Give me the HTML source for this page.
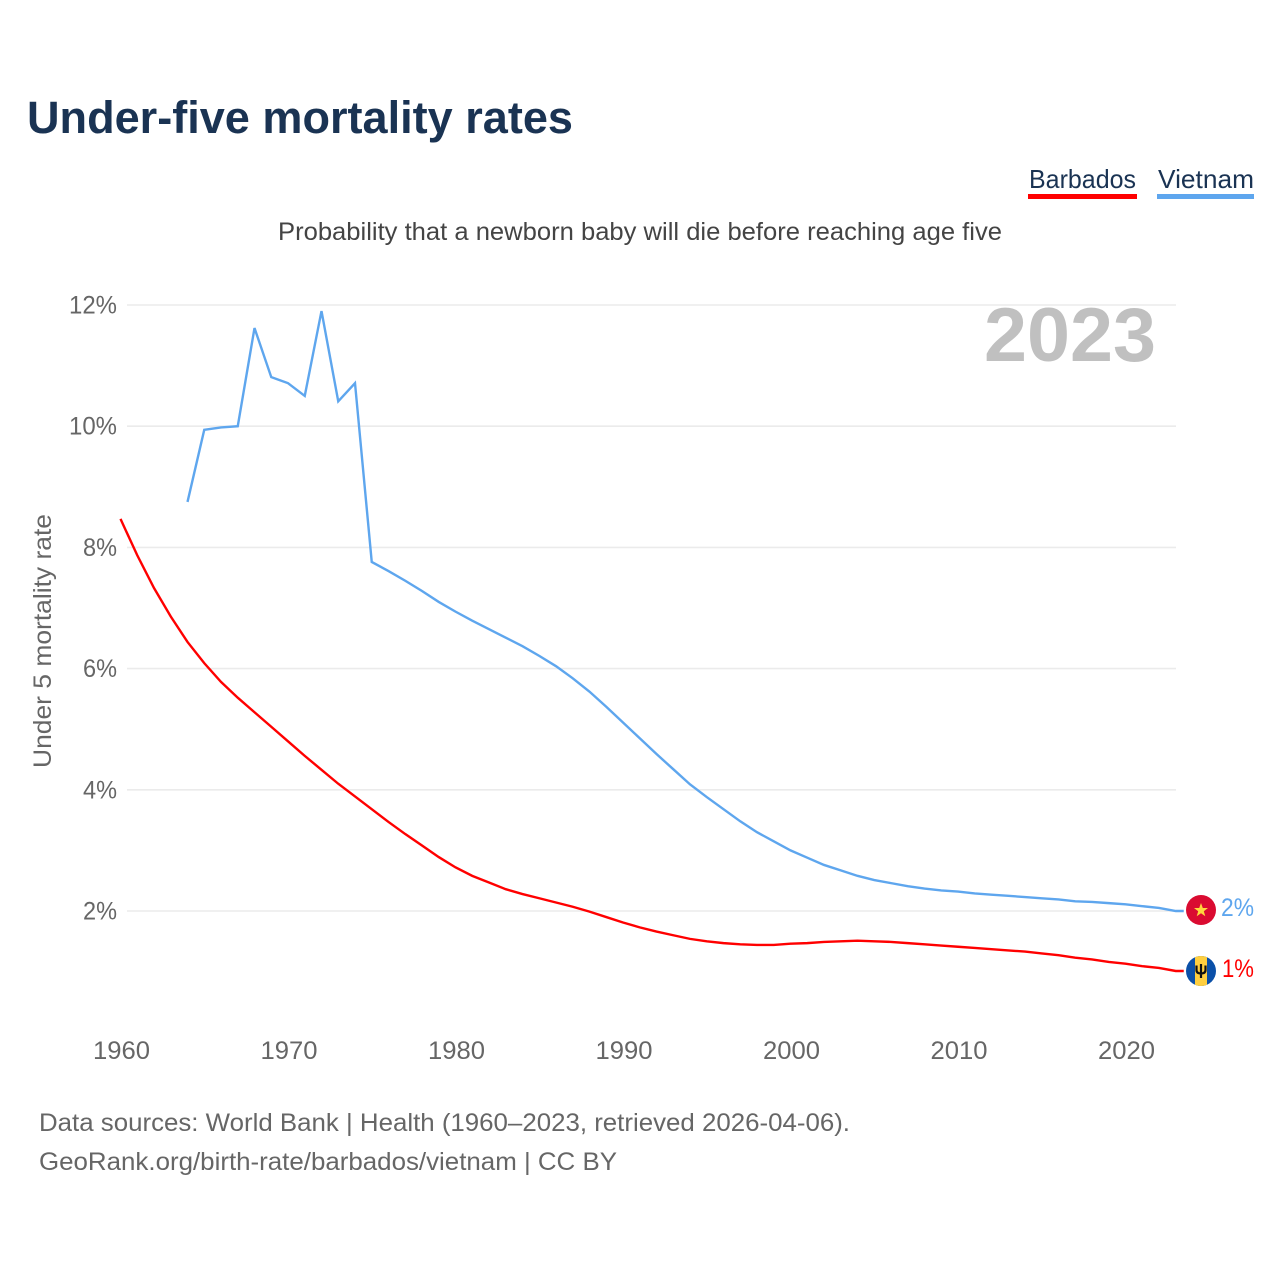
<!DOCTYPE html>
<html>
<head>
<meta charset="utf-8">
<title>Under-five mortality rates</title>
<style>
html,body{margin:0;padding:0;background:#fff;}
svg{display:block;font-family:"Liberation Sans",sans-serif;}
</style>
</head>
<body>
<svg id="chart" xmlns="http://www.w3.org/2000/svg" width="1280" height="1280" viewBox="0 0 1280 1280">
  <rect x="0" y="0" width="1280" height="1280" fill="#fff"/>
  <text x="27" y="133" font-size="45" font-weight="700" fill="#1a3353" textLength="546" lengthAdjust="spacingAndGlyphs">Under-five mortality rates</text>
  <g>
    <text x="1029" y="188" font-size="26" fill="#1a3353" textLength="107" lengthAdjust="spacingAndGlyphs">Barbados</text>
    <rect x="1028" y="194" width="109" height="5" fill="#ff0000"/>
  </g>
  <g>
    <text x="1158" y="188" font-size="26" fill="#1a3353" textLength="96" lengthAdjust="spacingAndGlyphs">Vietnam</text>
    <rect x="1157" y="194" width="97" height="5" fill="#5ea6ee"/>
  </g>
  <text x="278" y="240" font-size="25" fill="#444" textLength="724" lengthAdjust="spacingAndGlyphs">Probability that a newborn baby will die before reaching age five</text>
  <g id="grid"></g>
  <g id="yticks"></g>
  <g id="xticks"></g>
  <text transform="translate(51,768) rotate(-90)" x="0" y="0" font-size="25" fill="#666" textLength="254" lengthAdjust="spacingAndGlyphs">Under 5 mortality rate</text>
  <text x="984" y="361" font-size="76" font-weight="700" fill="#c0c0c0" textLength="172" lengthAdjust="spacingAndGlyphs">2023</text>
  <g id="lines"></g>
  <g id="flag-vietnam">
    <circle cx="1201" cy="910" r="15" fill="#da0b31"/>
    <polygon points="1201,903 1202.8,908 1208,908 1203.8,911.2 1205.3,916.2 1201,913.2 1196.7,916.2 1198.2,911.2 1194,908 1199.2,908" fill="#ffd83d"/>
  </g>
  <g id="flag-barbados">
    <clipPath id="bb-clip"><circle cx="1201" cy="971" r="15"/></clipPath>
    <g clip-path="url(#bb-clip)">
      <rect x="1186" y="956" width="30" height="30" fill="#0b50a8"/>
      <rect x="1195" y="956" width="12" height="30" fill="#ffcf3f"/>
    </g>
    <path d="M1201 964V978M1196.5 965.5V970c0 2.500 1.500 3.500 4.500 3.500s4.500-1 4.500-3.500V965.500" fill="none" stroke="#111" stroke-width="2.2"/>
  </g>
  <text x="1221" y="916" font-size="25" fill="#5ea6ee" textLength="33" lengthAdjust="spacingAndGlyphs">2%</text>
  <text x="1222" y="977" font-size="25" fill="#ff0000" textLength="32" lengthAdjust="spacingAndGlyphs">1%</text>
  <text x="39" y="1131" font-size="25" fill="#666" textLength="811" lengthAdjust="spacingAndGlyphs">Data sources: World Bank | Health (1960–2023, retrieved 2026-04-06).</text>
  <text x="39" y="1170" font-size="25" fill="#666" textLength="578" lengthAdjust="spacingAndGlyphs">GeoRank.org/birth-rate/barbados/vietnam | CC BY</text>
</svg>
<script>
const startYear = 1960;
const endYear = 2023;
const yTickValues = [2, 4, 6, 8, 10, 12];
const yTickLabels = ["2%", "4%", "6%", "8%", "10%", "12%"];
const xTickValues = [1960, 1970, 1980, 1990, 2000, 2010, 2020];
const xTickLabels = ["1960", "1970", "1980", "1990", "2000", "2010", "2020"];
const barbadosValues = [8.47,7.87,7.33,6.86,6.44,6.09,5.78,5.52,5.28,5.04,4.80,4.56,4.33,4.10,3.89,3.68,3.47,3.27,3.08,2.89,2.72,2.58,2.47,2.36,2.28,2.21,2.14,2.07,1.99,1.90,1.81,1.73,1.66,1.60,1.54,1.50,1.47,1.45,1.44,1.44,1.46,1.47,1.49,1.50,1.51,1.50,1.49,1.47,1.45,1.43,1.41,1.39,1.37,1.35,1.33,1.30,1.27,1.23,1.20,1.16,1.13,1.09,1.06,1.01];
const vietnamValues = [null,null,null,null,8.75,9.94,9.98,10.0,11.62,10.81,10.71,10.5,11.9,10.41,10.71,7.76,7.61,7.45,7.28,7.10,6.94,6.79,6.65,6.51,6.37,6.21,6.04,5.84,5.62,5.37,5.11,4.85,4.59,4.34,4.09,3.88,3.68,3.48,3.30,3.15,3.00,2.88,2.76,2.67,2.58,2.51,2.46,2.41,2.37,2.34,2.32,2.29,2.27,2.25,2.23,2.21,2.19,2.16,2.15,2.13,2.11,2.08,2.05,2.0];

const NS = "http://www.w3.org/2000/svg";
function xScale(year) { return 120.5 + (year - 1960) * 16.75; }
function yScale(v) { return 911 - (v - 2) * 60.6; }
function make(tag, attrs, parent, text) {
  const el = document.createElementNS(NS, tag);
  for (const k in attrs) el.setAttribute(k, attrs[k]);
  if (text !== undefined) el.textContent = text;
  parent.appendChild(el);
  return el;
}
const grid = document.getElementById("grid");
const yticks = document.getElementById("yticks");
const xticks = document.getElementById("xticks");
const lines = document.getElementById("lines");

yTickValues.forEach(function (v, i) {
  const g = make("line", { x1: 127, x2: 1176, y1: yScale(v), y2: yScale(v), stroke: "#ebebeb", "stroke-width": 1.6 }, grid);
  
  
  const t = make("text", { x: 117, y: yScale(v) + 8.5, "text-anchor": "end", "font-size": 25, fill: "#666", textLength: yTickLabels[i].length > 2 ? 48 : 34, lengthAdjust: "spacingAndGlyphs" }, yticks, yTickLabels[i]);
  
  
});
xTickValues.forEach(function (v, i) {
  const t = make("text", { x: xScale(v) + 1, y: 1059, "text-anchor": "middle", "font-size": 25, fill: "#666", textLength: 57, lengthAdjust: "spacingAndGlyphs" }, xticks, xTickLabels[i]);
  
  
});
function seriesPath(values) {
  let d = "";
  let lastY = null;
  values.forEach(function (v, i) {
    if (v === null) return;
    lastY = yScale(v);
    d += (d ? "L" : "M") + xScale(startYear + i).toFixed(2) + " " + lastY.toFixed(2);
  });
  d += "L" + (xScale(endYear) + 8).toFixed(2) + " " + lastY.toFixed(2);
  return d;
}
const barbadosLine = make("path", { d: seriesPath(barbadosValues), fill: "none", stroke: "#ff0000", "stroke-width": 2.4, "stroke-linejoin": "miter" }, lines);


const vietnamLine = make("path", { d: seriesPath(vietnamValues), fill: "none", stroke: "#5ea6ee", "stroke-width": 2.4, "stroke-linejoin": "miter" }, lines);


</script>
</body>
</html>
